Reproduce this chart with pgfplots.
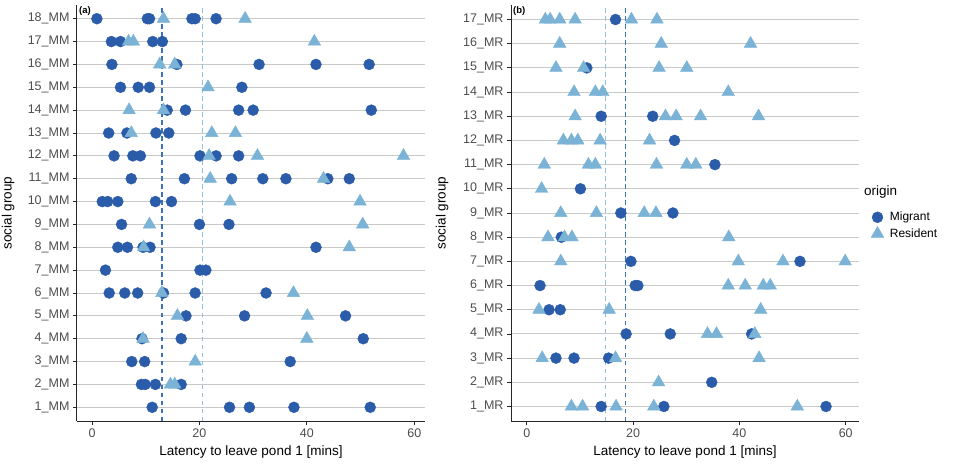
\documentclass[border=0pt]{standalone}
\usepackage{fontspec}
\setmainfont{Liberation Sans}
\usepackage{pgfplots}
\pgfplotsset{compat=1.18}
\usetikzlibrary{calc}

\definecolor{migrant}{HTML}{2A5CAA}
\definecolor{resident}{HTML}{7AB3D6}
\definecolor{meanmig}{HTML}{3B72B8}
\definecolor{meanres}{HTML}{8FC1E2}
\definecolor{gridgray}{HTML}{C9C9C9}
\definecolor{ticktext}{HTML}{4D4D4D}

\pgfplotsset{
  panel/.style={
    scale only axis, width=348pt, height=416pt,
    axis x line*=bottom, axis y line*=left,
    axis line style={-, black!85, line width=1pt},
    tick align=outside, major tick length=4pt,
    tick style={black!85, line width=0.8pt},
    ymajorgrids, grid style={gridgray, line width=0.9pt},
    xtick={0,20,40,60},
    ticklabel style={font=\fontsize{12.5}{14}\selectfont, text=ticktext},
    /pgf/number format/assume math mode=true,
    xlabel={Latency to leave pond 1 [mins]}, ylabel={social group},
    label style={font=\fontsize{13.5}{16}\selectfont},
    xlabel style={at={(axis description cs:0.5,-0.082)}, anchor=base},
    ylabel style={at={(axis description cs:-0.198,0.5)}, anchor=center},
  },
  mig/.style={only marks, mark=*, mark size=5.5pt, color=migrant},
  res/.style={only marks, mark=triangle*, mark size=7.3pt, color=resident},
  mmean/.style={color=meanmig, line width=1.3pt, dash pattern=on 4.5pt off 3.5pt},
  rmean/.style={color=meanres, line width=1.2pt, dash pattern=on 4.5pt off 3.5pt},
}

\begin{document}
\begin{tikzpicture}
\path[use as bounding box] (0,0) rectangle (955pt,466pt);

% (a) MM groups
\begin{axis}[panel, at={(77pt,45pt)}, anchor=south west,
  xmin=-2.8, xmax=62.0, ymin=0.4, ymax=18.6,
  ytick={1,...,18},
  yticklabels={1\_MM,2\_MM,3\_MM,4\_MM,5\_MM,6\_MM,7\_MM,8\_MM,9\_MM,10\_MM,11\_MM,12\_MM,13\_MM,14\_MM,15\_MM,16\_MM,17\_MM,18\_MM},
]
\addplot[rmean] coordinates {(20.5,0.4) (20.5,18.6)};
\addplot[mmean] coordinates {(13.0,0.4) (13.0,18.6)};
\addplot[mig] coordinates {
 (0.9,18) (10.3,18) (10.7,18) (18.6,18) (19.2,18) (23.1,18)
 (3.6,17) (5.3,17) (11.3,17) (13.1,17)
 (3.7,16) (15.8,16) (31.1,16) (41.7,16) (51.6,16)
 (5.3,15) (8.6,15) (10.7,15) (27.9,15)
 (14.0,14) (17.4,14) (27.3,14) (30.0,14) (52.0,14)
 (3.1,13) (6.5,13) (11.9,13) (14.3,13)
 (4.1,12) (7.6,12) (9.0,12) (20.1,12) (23.1,12) (27.3,12)
 (7.3,11) (17.2,11) (26.0,11) (31.8,11) (36.1,11) (43.9,11) (47.9,11)
 (1.9,10) (2.9,10) (4.8,10) (11.8,10) (14.8,10)
 (5.5,9) (20.0,9) (25.5,9)
 (4.8,8) (6.6,8) (9.5,8) (10.8,8) (41.7,8)
 (2.5,7) (20.1,7) (21.2,7)
 (3.2,6) (6.1,6) (8.5,6) (13.3,6) (19.2,6) (32.4,6)
 (17.5,5) (28.4,5) (47.2,5)
 (9.3,4) (16.6,4) (50.5,4)
 (7.4,3) (9.8,3) (36.9,3)
 (9.2,2) (9.9,2) (11.8,2) (16.6,2)
 (11.2,1) (25.6,1) (29.3,1) (37.6,1) (51.8,1)
};
\addplot[res] coordinates {
 (13.3,18) (28.5,18)
 (6.8,17) (7.7,17) (41.4,17)
 (12.6,16) (15.4,16)
 (21.6,15)
 (6.9,14) (13.3,14)
 (7.3,13) (22.3,13) (26.7,13)
 (21.8,12) (30.8,12) (58.0,12)
 (22.0,11) (43.1,11)
 (25.7,10) (49.9,10)
 (10.7,9) (50.4,9)
 (9.6,8) (47.9,8)
 (13.0,6) (37.5,6)
 (15.9,5) (40.1,5)
 (9.5,4) (40.0,4)
 (19.2,3)
 (14.6,2) (15.4,2)
};
\node[anchor=north west, inner sep=0pt, font=\fontsize{9.5}{11}\selectfont\bfseries]
  at (rel axis cs:0,1) [xshift=2pt, yshift=-1pt] {(a)};
\end{axis}

% (b) MR groups
\begin{axis}[panel, name=pb, at={(511pt,45pt)}, anchor=south west,
  xmin=-2.96, xmax=62.5, ymin=0.4, ymax=17.6,
  ytick={1,...,17},
  yticklabels={1\_MR,2\_MR,3\_MR,4\_MR,5\_MR,6\_MR,7\_MR,8\_MR,9\_MR,10\_MR,11\_MR,12\_MR,13\_MR,14\_MR,15\_MR,16\_MR,17\_MR},
  legend style={at={(axis description cs:1.0,0.512)}, anchor=north west, xshift=9pt,
    draw=none, fill=none, font=\fontsize{12}{14}\selectfont, row sep=2pt,
    /tikz/every even column/.append style={column sep=0pt},
    /tikz/every odd column/.append style={column sep=4pt}},
  legend cell align=left,
]
\addplot[rmean, forget plot] coordinates {(14.8,0.4) (14.8,17.6)};
\addplot[mmean, forget plot] coordinates {(18.6,0.4) (18.6,17.6)};
\addplot[mig] coordinates {
 (16.7,17)
 (11.3,15)
 (14.0,13) (23.7,13)
 (27.8,12)
 (35.4,11)
 (10.1,10)
 (17.7,9) (27.5,9)
 (6.5,8)
 (19.6,7) (51.4,7)
 (2.5,6) (20.4,6) (20.9,6)
 (4.2,5) (6.3,5)
 (18.7,4) (27.0,4) (42.3,4)
 (5.5,3) (8.9,3) (15.4,3)
 (34.8,2)
 (14.0,1) (25.8,1) (56.3,1)
};
\addlegendentry{Migrant}
\addplot[res] coordinates {
 (3.5,17) (4.4,17) (6.2,17) (9.1,17) (19.7,17) (24.5,17)
 (6.2,16) (25.3,16) (42.1,16)
 (5.5,15) (10.7,15) (24.9,15) (30.1,15)
 (8.9,14) (12.9,14) (14.3,14) (37.9,14)
 (9.1,13) (26.1,13) (28.1,13) (32.7,13) (43.6,13)
 (6.9,12) (8.4,12) (9.6,12) (13.8,12) (23.1,12)
 (3.3,11) (11.6,11) (12.9,11) (24.4,11) (30.1,11) (31.8,11)
 (2.8,10)
 (6.4,9) (13.1,9) (22.1,9) (24.3,9)
 (4.0,8) (7.1,8) (8.5,8) (38.0,8)
 (6.4,7) (39.8,7) (48.2,7) (59.9,7)
 (37.9,6) (41.1,6) (44.5,6) (45.8,6)
 (2.3,5) (15.5,5) (44.0,5)
 (34.0,4) (35.7,4) (42.9,4)
 (2.9,3) (16.7,3) (43.7,3)
 (24.8,2)
 (8.4,1) (10.5,1) (16.8,1) (23.9,1) (50.9,1)
};
\addlegendentry{Resident}
\node[anchor=north west, inner sep=0pt, font=\fontsize{9.5}{11}\selectfont\bfseries]
  at (rel axis cs:0,1) [xshift=2pt, yshift=-1pt] {(b)};
\end{axis}
\node[anchor=west, inner sep=0pt, font=\fontsize{13.5}{16}\selectfont]
  at ($(pb.south east)!0.55!(pb.north east)$) [xshift=5pt] {origin};
\end{tikzpicture}
\end{document}
